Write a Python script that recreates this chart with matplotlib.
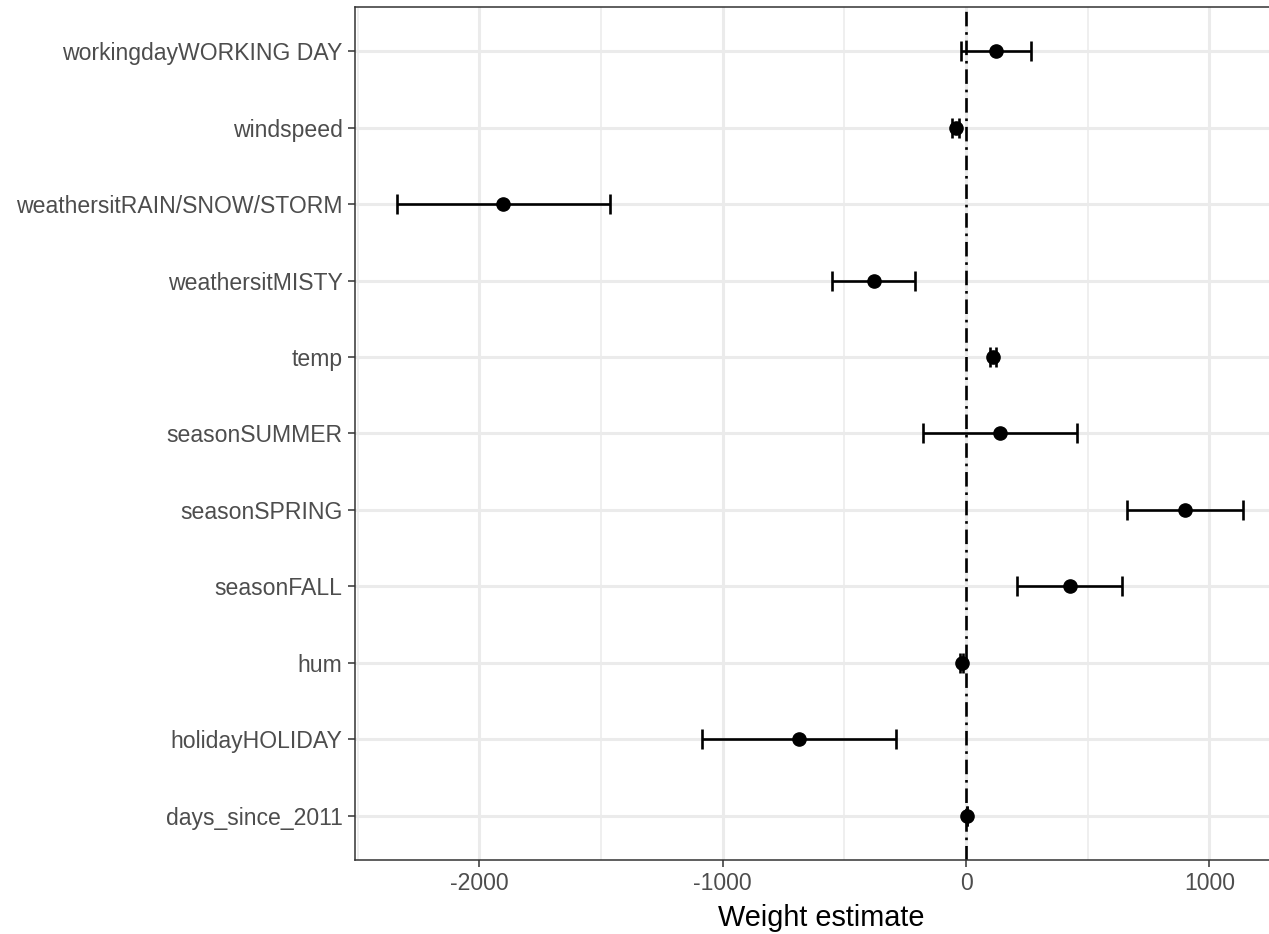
import matplotlib
matplotlib.use("Agg")
import matplotlib.pyplot as plt
from matplotlib.ticker import MultipleLocator

features = ["days_since_2011", "holidayHOLIDAY", "hum", "seasonFALL", "seasonSPRING",
            "seasonSUMMER", "temp", "weathersitMISTY", "weathersitRAIN/SNOW/STORM",
            "windspeed", "workingdayWORKING DAY"]
estimate = [4.9, -686.1, -17.4, 425.6, 899.3, 138.2, 110.7, -379.4, -1901.5, -42.5, 124.9]
lower = [4.5, -1084.6, -23.7, 208.4, 659.6, -178.7, 97.0, -551.1, -2339.8, -56.0, -18.8]
upper = [5.3, -287.6, -11.1, 642.8, 1139.0, 455.1, 124.4, -207.7, -1463.2, -29.0, 268.6]

plt.rcParams["font.family"] = ["Liberation Sans", "DejaVu Sans"]
plt.rcParams["axes.unicode_minus"] = False

fig = plt.figure(figsize=(12.69, 9.34), dpi=100)
ax = fig.add_axes([355 / 1269, 1 - 860 / 934, 1 - 355 / 1269, (860 - 7) / 934])

ypos = list(range(1, len(features) + 1))
err_lo = [e - l for e, l in zip(estimate, lower)]
err_hi = [u - e for e, u in zip(estimate, upper)]

ax.axvline(0, color="black", lw=1.9, linestyle=(0, (5.5, 2.2, 1, 2.2)), zorder=2)
ax.errorbar(estimate, ypos, xerr=[err_lo, err_hi], fmt="o", color="black",
            ms=9.5, elinewidth=1.9, capsize=7, capthick=1.9, zorder=3)

ax.set_xlim(-2511, 1245)
ax.set_ylim(0.42, len(features) + 0.58)
ax.set_yticks(ypos)
ax.set_yticklabels(features)
ax.xaxis.set_major_locator(MultipleLocator(1000))
ax.xaxis.set_minor_locator(MultipleLocator(500))
ax.set_xticklabels([], minor=True)

ax.grid(True, which="major", color="#ebebeb", lw=2.2, zorder=0)
ax.grid(True, which="minor", axis="x", color="#ebebeb", lw=1.1, zorder=0)
ax.set_axisbelow(True)

for side in ["left", "bottom", "top"]:
    ax.spines[side].set_color("#333333")
    ax.spines[side].set_linewidth(1.1)
ax.spines["right"].set_visible(False)

ax.tick_params(axis="both", which="major", length=5, width=1.1, color="#333333",
               labelcolor="#4d4d4d", labelsize=16.6, pad=4)
ax.tick_params(axis="x", which="minor", length=0)

ax.set_xlabel("Weight estimate", fontsize=20.8, color="black")
ax.xaxis.set_label_coords(0.51, -0.052)

fig.savefig("out.png", dpi=100)
